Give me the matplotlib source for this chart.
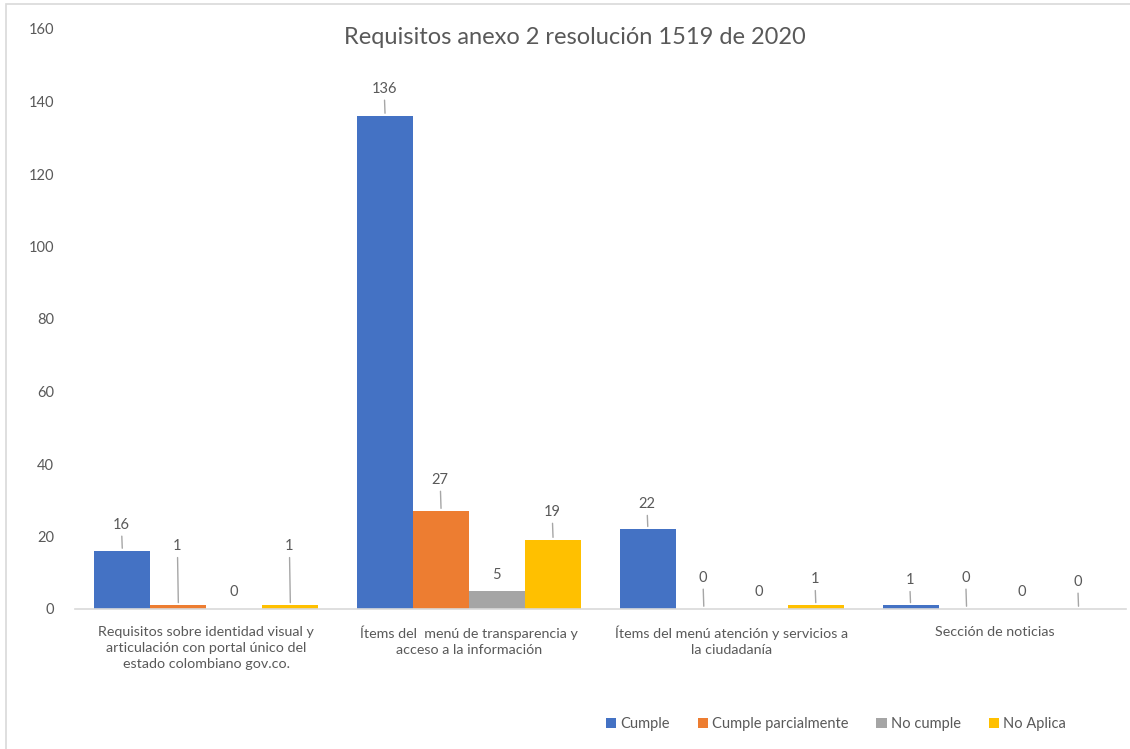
import numpy as np
import matplotlib.pyplot as plt
from matplotlib.patches import Rectangle

plt.rcParams['font.family'] = ['Lato', 'DejaVu Sans']

# datos
categorias = [
    'Requisitos sobre identidad visual y\narticulación con portal único del\nestado colombiano gov.co.',
    'Ítems del  menú de transparencia y\nacceso a la información',
    'Ítems del menú atención y servicios a\nla ciudadanía',
    'Sección de noticias',
]
series = ['Cumple', 'Cumple parcialmente', 'No cumple', 'No Aplica']
cumple = [16, 136, 22, 1]
parcial = [1, 27, 0, 0]
no_cumple = [0, 5, 0, 0]
no_aplica = [1, 19, 1, 0]
valores = [cumple, parcial, no_cumple, no_aplica]
colores = ['#4472C4', '#ED7D31', '#A5A5A5', '#FFC000']

# posición de las etiquetas (pixeles sobre la barra) y si llevan línea guía
etiqueta_dy = [[26, 27, 25, 25],
               [59, 31, 31, 31],
               [17, 16, 17, 17],
               [59, 28, 26, 27]]
con_linea = [[True, True, True, True],
             [True, True, True, True],
             [False, False, False, False],
             [True, True, True, True]]

W, H = 1130, 749
fig = plt.figure(figsize=(W / 100, H / 100), dpi=100)
fig.patches.append(Rectangle((6 / W, -0.1), 1.2, 1 - 4 / H + 0.1, transform=fig.transFigure,
                             fill=False, edgecolor='#d9d9d9', linewidth=1.2))

ax = fig.add_axes([75 / W, (H - 609) / H, (1126 - 75) / W, 580 / H])
x = np.arange(len(categorias))
ancho = 56 / 262.75
gris = '#595959'

for i, (nombre, vals, col) in enumerate(zip(series, valores, colores)):
    pos = x + (i - 1.5) * ancho
    ax.bar(pos, vals, width=ancho, color=col, label=nombre, zorder=2)
    for j, (px, v) in enumerate(zip(pos, vals)):
        dy = etiqueta_dy[i][j]
        arrow = None
        if con_linea[i][j]:
            arrow = dict(arrowstyle='-', color='#a6a6a6', lw=1, shrinkA=1, shrinkB=2)
        ax.annotate(str(v), xy=(px, v), xytext=(-1, dy), textcoords='offset pixels',
                    ha='center', va='center', fontsize=10.5, color=gris,
                    arrowprops=arrow)

ax.set_xlim(-0.5, 3.5)
ax.set_ylim(0, 160)
ax.set_yticks(range(0, 161, 20))
ax.set_xticks(x)
ax.set_xticklabels(categorias, fontsize=10.3, color=gris, linespacing=1.4)
ax.tick_params(axis='y', length=0, pad=15, labelsize=10.5, labelcolor=gris)
ax.tick_params(axis='x', length=0, pad=12)
for lado in ['top', 'right', 'left']:
    ax.spines[lado].set_visible(False)
ax.spines['bottom'].set_color('#d9d9d9')
ax.spines['bottom'].set_linewidth(1.2)

fig.text(575 / W, 1 - 38 / H, 'Requisitos anexo 2 resolución 1519 de 2020',
         ha='center', va='center', fontsize=17, color=gris)

fig.legend(loc='center', bbox_to_anchor=(836 / W, 1 - 724 / H), ncol=4, frameon=False,
           fontsize=10.5, labelcolor=gris, handlelength=0.7, handleheight=0.7,
           handletextpad=0.3, columnspacing=1.9)

fig.savefig('out.png', dpi=100)
